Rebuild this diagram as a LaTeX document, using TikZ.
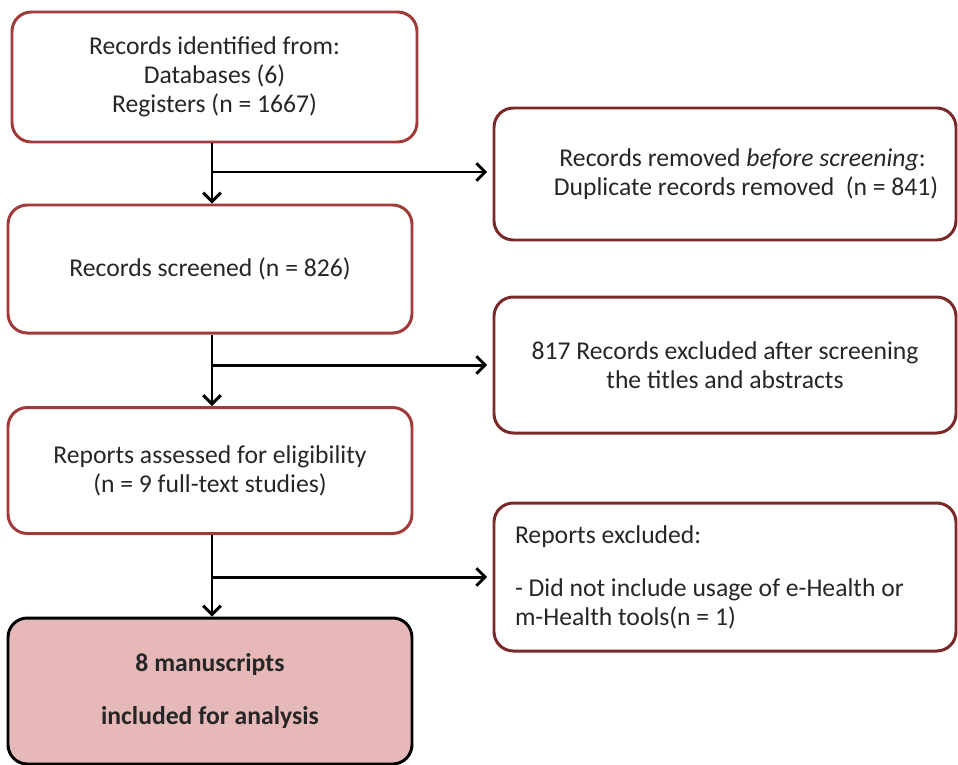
\documentclass[tikz,border=0pt]{standalone}
\usepackage{fontspec}
\setmainfont{Carlito}
\usetikzlibrary{arrows.meta}
\definecolor{boxred}{HTML}{A13A3A}
\definecolor{boxdark}{HTML}{7A2828}
\definecolor{boxpink}{HTML}{E6B8B8}
\tikzset{
	box/.style={draw=boxred, line width=1.7pt, rounded corners=11pt, align=center,
		font=\fontsize{14.6}{16.4}\selectfont, text=black!85, inner sep=0pt},
	sidebox/.style={box, draw=boxdark},
	arr/.style={line width=1.7pt, -{Straight Barb[length=5pt,width=10pt,line width=1.7pt]}}
}
\begin{document}
\begin{tikzpicture}[x=0.02cm, y=-0.02cm]
		\useasboundingbox (0,0) rectangle (958,765);
		\node[box, minimum width=405*0.02cm, minimum height=130*0.02cm](ident) at (214.5,77) {Records identified from:\\Databases (6)\\Registers (n = 1667)};
		\node[sidebox, minimum width=462*0.02cm, minimum height=132*0.02cm](dupl) at (725,174) {\hspace*{20pt}Records removed \emph{before screening}:\\\hspace*{24pt}Duplicate records removed\ \ (n = 841)};
		\node[box, minimum width=404*0.02cm, minimum height=128*0.02cm](screen) at (210,269) {Records screened (n = 826)};
		\node[sidebox, minimum width=462*0.02cm, minimum height=136*0.02cm](titles) at (725,365) {817 Records excluded after screening\\the titles and abstracts};
		\node[box, minimum width=404*0.02cm, minimum height=126*0.02cm](assess) at (210,470.5) {Reports assessed for eligibility\\(n = 9 full-text studies)};
		\node[sidebox, minimum width=462*0.02cm, minimum height=148*0.02cm, align=flush left, text width=420*0.02cm](repex) at (725,577) {Reports excluded:\\[14pt]- Did not include usage of e-Health or\\m-Health tools(n = 1)};
		\node[box, draw=black, fill=boxpink, minimum width=404*0.02cm, minimum height=146*0.02cm, font=\fontsize{14.6}{16.4}\bfseries](incl) at (210,691) {8 manuscripts\\[13.5pt]included for analysis};

		\coordinate(j1) at (212,172);
		\coordinate(j2) at (212,365);
		\coordinate(j3) at (212,577);

		\path [arr](ident.south -| j1) edge (j1 |- screen.north);
		\path [arr](j1) edge ([xshift=-3pt]dupl.west |- j1);
		\path [arr](screen.south -| j2) edge (j2 |- assess.north);
		\path [arr](j2) edge ([xshift=-3pt]titles.west |- j2);
		\path [arr](assess.south -| j3) edge (j3 |- incl.north);
		\path [arr](j3) edge ([xshift=-3pt]repex.west |- j3);
	\end{tikzpicture}
\end{document}
